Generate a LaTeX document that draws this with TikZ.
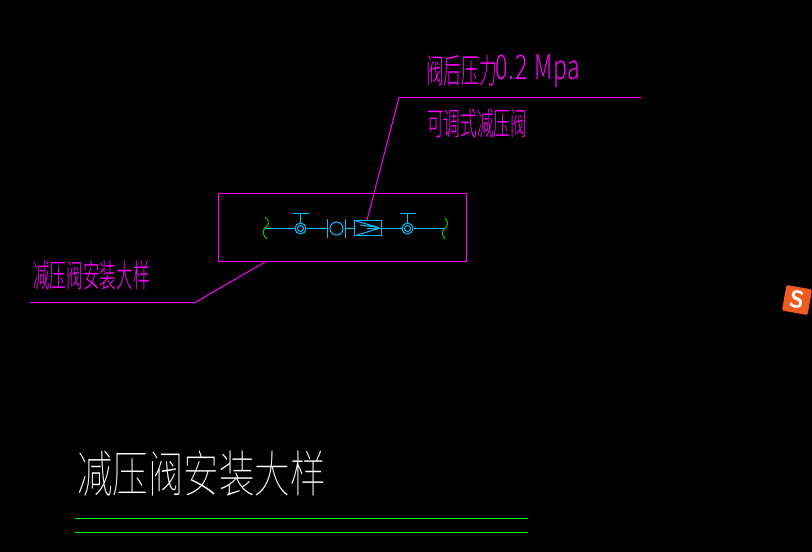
\documentclass[tikz,border=0pt]{standalone}
\usepackage{fontspec}
\usetikzlibrary{positioning,calc}
\newfontfamily\labelfont[FakeStretch=.52]{Noto Sans CJK SC Light}
\newfontfamily\latinfont[FakeStretch=.68,LetterSpace=3]{Noto Sans CJK SC Light}
\newfontfamily\titlefont[FakeStretch=.71]{Noto Sans CJK SC Thin}
\definecolor{pipecyan}{RGB}{0,191,255}
\definecolor{leadermag}{RGB}{255,0,255}
\definecolor{sogou}{RGB}{240,90,30}
\tikzset{
  pipe/.style={draw=pipecyan, line width=1pt},
  leader/.style={draw=leadermag, line width=1pt},
  marktext/.style={text=leadermag, anchor=west, inner sep=0pt, font=\labelfont\fontsize{32}{32}\selectfont},
  titletext/.style={text=white, anchor=west, inner sep=0pt, font=\titlefont\fontsize{50}{50}\selectfont},
}
\begin{document}
\begin{tikzpicture}[x=1pt, y=-1pt]
  \useasboundingbox[fill=black] (0,0) rectangle (812,552);

  % labels
  \node (pressure) [marktext, font=\labelfont\fontsize{34}{34}\selectfont] at (426,71) {阀后压力};
  \node (pressureval) [marktext, font=\latinfont\fontsize{34}{34}\selectfont, right=-2pt of pressure] {0.2 Mpa};
  \node (reducer) [marktext] at (427,123) {可调式减压阀};
  \node (detail) [marktext] at (33,275) {减压阀安装大样};
  \node (title) [titletext] at (77,474) {减压阀安装大样};

  % frame and leaders
  \node (frame) [leader, minimum width=248pt, minimum height=68pt, inner sep=0pt] at (342.5,227.5) {};
  \coordinate (topend) at (641,97.5);
  \coordinate (topbend) at (399,97.5);
  \coordinate (lowend) at (30,302.5);
  \coordinate (lowbend) at (195,302.5);
  \coordinate (lowstart) at (265,262);
  \draw[leader] (topend) -- (topbend) -- (367,220);
  \draw[leader] (lowend) -- (lowbend) -- (lowstart);

  % pipe line
  \coordinate (pipeL) at (265,228.5);
  \coordinate (pipeR) at (445,228.5);
  \node (valveA) [circle, pipe, minimum size=11pt, inner sep=0pt] at (300.5,228.5) {};
  \node (valveB) [circle, pipe, minimum size=11pt, inner sep=0pt] at (407.5,228.5) {};
  \node (pump) [circle, pipe, minimum size=13pt, inner sep=0pt] at (336.5,228.5) {};
  \node (reduce) [pipe, minimum width=27pt, minimum height=15pt, inner sep=0pt] at (367.5,227.5) {};
  \draw[pipe] (pipeL) -- (valveA) -- (327.5,228.5);
  \draw[pipe] (345.5,228.5) -- (reduce.west |- pipeL);
  \draw[pipe] (reduce.east |- pipeR) -- (valveB) -- (pipeR);

  % valve details
  \draw[pipe] (valveA.center) circle (3pt);
  \draw[pipe] (valveB.center) circle (3pt);
  \draw[pipe] (valveA.north) -- +(0,-9) +(-8,-9) -- +(8,-9);
  \draw[pipe] (valveB.north) -- +(0,-9) +(-8,-9) -- +(8,-9);
  \draw[pipe] (327.5,219) -- (327.5,238);
  \draw[pipe] (345.5,219) -- (345.5,238);
  \draw[pipe] (356,221) -- (379,227.5) -- (360,225);
  \draw[pipe] (357,235) -- (379,228.5) -- (367,228.5);

  % pipe ends
  \draw[green!80!black, line width=1pt] (265,217) .. controls (271,222) and (268,226) .. (265,228) .. controls (262,231) and (263,236) .. (267,239);
  \draw[green!80!black, line width=1pt] (445,218) .. controls (449,222) and (448,226) .. (445,228) .. controls (441,232) and (442,235) .. (445,239);

  % title underlines
  \coordinate (ruleAL) at (75,518.5);
  \coordinate (ruleAR) at (528,518.5);
  \coordinate (ruleBL) at (75,532.5);
  \coordinate (ruleBR) at (528,532.5);
  \draw[green, line width=1pt] (ruleAL) -- (ruleAR);
  \draw[green, line width=1pt] (ruleBL) -- (ruleBR);

  % input method icon
  \node (icon) [fill=sogou, rounded corners=2pt, rotate=-10, minimum size=26pt, inner sep=0pt, text=white, font=\sffamily\bfseries\fontsize{24}{24}\selectfont] at (797,300) {S};
\end{tikzpicture}
\end{document}
